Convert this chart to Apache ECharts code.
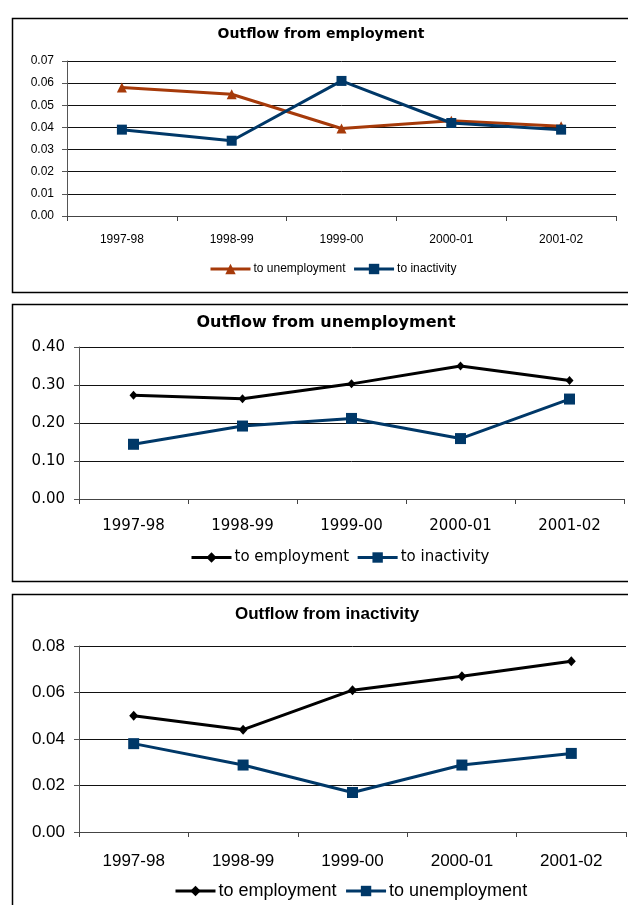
<!DOCTYPE html>
<html>
<head>
<meta charset="utf-8">
<title>Labour market outflows</title>
<script src="https://cdn.jsdelivr.net/npm/echarts@6/dist/echarts.min.js"></script>
<style>
  html, body { margin: 0; padding: 0; background: #fff; }
  #chart { width: 628px; height: 905px; }
</style>
</head>
<body>
<div id="chart"></div>
<script>
// Periods shared by all three panels
const periods = ['1997-98', '1998-99', '1999-00', '2000-01', '2001-02'];

// Outflow from employment
const empToUnemployment = [0.058, 0.055, 0.0395, 0.043, 0.0405];
const empToInactivity   = [0.039, 0.034, 0.061, 0.042, 0.039];
const empTicks = ['0.00', '0.01', '0.02', '0.03', '0.04', '0.05', '0.06', '0.07'];

// Outflow from unemployment
const unempToEmployment = [0.273, 0.264, 0.303, 0.350, 0.312];
const unempToInactivity = [0.144, 0.192, 0.212, 0.159, 0.263];
const unempTicks = ['0.00', '0.10', '0.20', '0.30', '0.40'];

// Outflow from inactivity
const inactToEmployment   = [0.050, 0.044, 0.061, 0.067, 0.0734];
const inactToUnemployment = [0.038, 0.0288, 0.017, 0.0288, 0.0338];
const inactTicks = ['0.00', '0.02', '0.04', '0.06', '0.08'];

const RUST = '#a63a0a';
const NAVY = '#003868';
const BLACK = '#000000';

const panels = [
  {
    id: 'emp',
    title: 'Outflow from employment', titleX: 321, titleTop: 27,
    titleFont: { fontFamily: 'DejaVu Sans', fontSize: 14, fontWeight: 'bold' },
    grid: { left: 67, top: 61, width: 549, height: 155 },
    ticks: empTicks, step: 0.01,
    axisFont: { fontFamily: 'Liberation Sans', fontSize: 12 },
    xMargin: 18, yMargin: 13,
    legendLeft: 209, legendTop: 263, legendFont: { fontFamily: 'Liberation Sans', fontSize: 12 },
    legendGap: 7,
    series: [
      { name: 'to unemployment', data: empToUnemployment, color: RUST, symbol: 'triangle', size: 10 },
      { name: 'to inactivity', data: empToInactivity, color: NAVY, symbol: 'rect', size: 10 }
    ],
    box: { top: 16, height: 274 }
  },
  {
    id: 'unemp',
    title: 'Outflow from unemployment', titleX: 326, titleTop: 315,
    titleFont: { fontFamily: 'DejaVu Sans', fontSize: 16, fontWeight: 'bold' },
    grid: { left: 79, top: 347, width: 545, height: 152 },
    ticks: unempTicks, step: 0.1,
    axisFont: { fontFamily: 'DejaVu Sans', fontSize: 15 },
    xMargin: 20, yMargin: 14,
    legendLeft: 190, legendTop: 550, legendFont: { fontFamily: 'DejaVu Sans', fontSize: 15 },
    legendGap: 7,
    series: [
      { name: 'to employment', data: unempToEmployment, color: BLACK, symbol: 'diamond', size: [8, 9] },
      { name: 'to inactivity', data: unempToInactivity, color: NAVY, symbol: 'rect', size: 11 }
    ],
    box: { top: 302, height: 277 }
  },
  {
    id: 'inact',
    title: 'Outflow from inactivity', titleX: 327, titleTop: 606,
    titleFont: { fontFamily: 'Liberation Sans', fontSize: 17, fontWeight: 'bold' },
    grid: { left: 79, top: 646, width: 547, height: 186 },
    ticks: inactTicks, step: 0.02,
    axisFont: { fontFamily: 'Liberation Sans', fontSize: 17 },
    xMargin: 21, yMargin: 14,
    legendLeft: 174, legendTop: 882, legendFont: { fontFamily: 'Liberation Sans', fontSize: 18 },
    legendGap: 8,
    series: [
      { name: 'to employment', data: inactToEmployment, color: BLACK, symbol: 'diamond', size: [9, 10] },
      { name: 'to unemployment', data: inactToUnemployment, color: NAVY, symbol: 'rect', size: 11 }
    ],
    box: { top: 592, height: 330 }
  }
];

// series keys are prefixed with the panel id so each legend only picks up its own lines
const SEP = '|';
const keyOf = (p, s) => p.id + SEP + s.name;

const option = {
  backgroundColor: '#ffffff',
  animation: false,
  title: [],
  legend: [],
  grid: [],
  xAxis: [],
  yAxis: [],
  series: [],
  graphic: []
};

panels.forEach((p, i) => {
  // frame around each panel (runs past the right edge of the page)
  option.graphic.push({
    type: 'rect',
    left: 10, top: p.box.top,
    shape: { width: 640, height: p.box.height },
    style: { fill: 'none', stroke: '#000', lineWidth: 1.5 },
    z: 0
  });

  option.title.push({
    text: p.title,
    left: p.titleX, top: p.titleTop, textAlign: 'center', padding: 0,
    textStyle: Object.assign({ color: '#000' }, p.titleFont)
  });

  option.grid.push(Object.assign({ containLabel: false }, p.grid));

  option.xAxis.push({
    type: 'category', gridIndex: i, data: periods, boundaryGap: true,
    axisLine: { lineStyle: { color: '#444', width: 1 } },
    axisTick: { show: true, inside: false, length: 5, alignWithLabel: false, lineStyle: { color: '#444' } },
    axisLabel: Object.assign({ color: '#000', margin: p.xMargin, interval: 0 }, p.axisFont),
    splitLine: { show: false }
  });

  const maxTick = parseFloat(p.ticks[p.ticks.length - 1]);
  const digits = p.ticks[0].split('.')[1].length;
  option.yAxis.push({
    type: 'value', gridIndex: i, min: 0, max: maxTick, interval: p.step,
    axisLine: { show: true, lineStyle: { color: '#555', width: 1 } },
    axisTick: { show: true, length: 5, lineStyle: { color: '#555' } },
    axisLabel: Object.assign({
      color: '#000', margin: p.yMargin,
      formatter: v => v.toFixed(digits)
    }, p.axisFont),
    splitLine: { show: true, lineStyle: { color: '#111', width: 1 } }
  });

  option.legend.push({
    left: p.legendLeft, top: p.legendTop, padding: 0,
    orient: 'horizontal',
    itemWidth: 40, itemHeight: 13, itemGap: p.legendGap,
    data: p.series.map(s => keyOf(p, s)),
    formatter: name => name.split(SEP)[1],
    lineStyle: { width: 3 },
    textStyle: Object.assign({ color: '#000', padding: [0, 0, 0, -2] }, p.legendFont)
  });

  p.series.forEach(s => {
    option.series.push({
      type: 'line', name: keyOf(p, s), xAxisIndex: i, yAxisIndex: i,
      data: s.data,
      symbol: s.symbol, symbolSize: s.size, showSymbol: true,
      lineStyle: { color: s.color, width: 3 },
      itemStyle: { color: s.color, borderWidth: 0 },
      emphasis: { disabled: true }
    });
  });
});

const chart = echarts.init(document.getElementById('chart'), null, { renderer: 'canvas' });
chart.setOption(option);
</script>
</body>
</html>
